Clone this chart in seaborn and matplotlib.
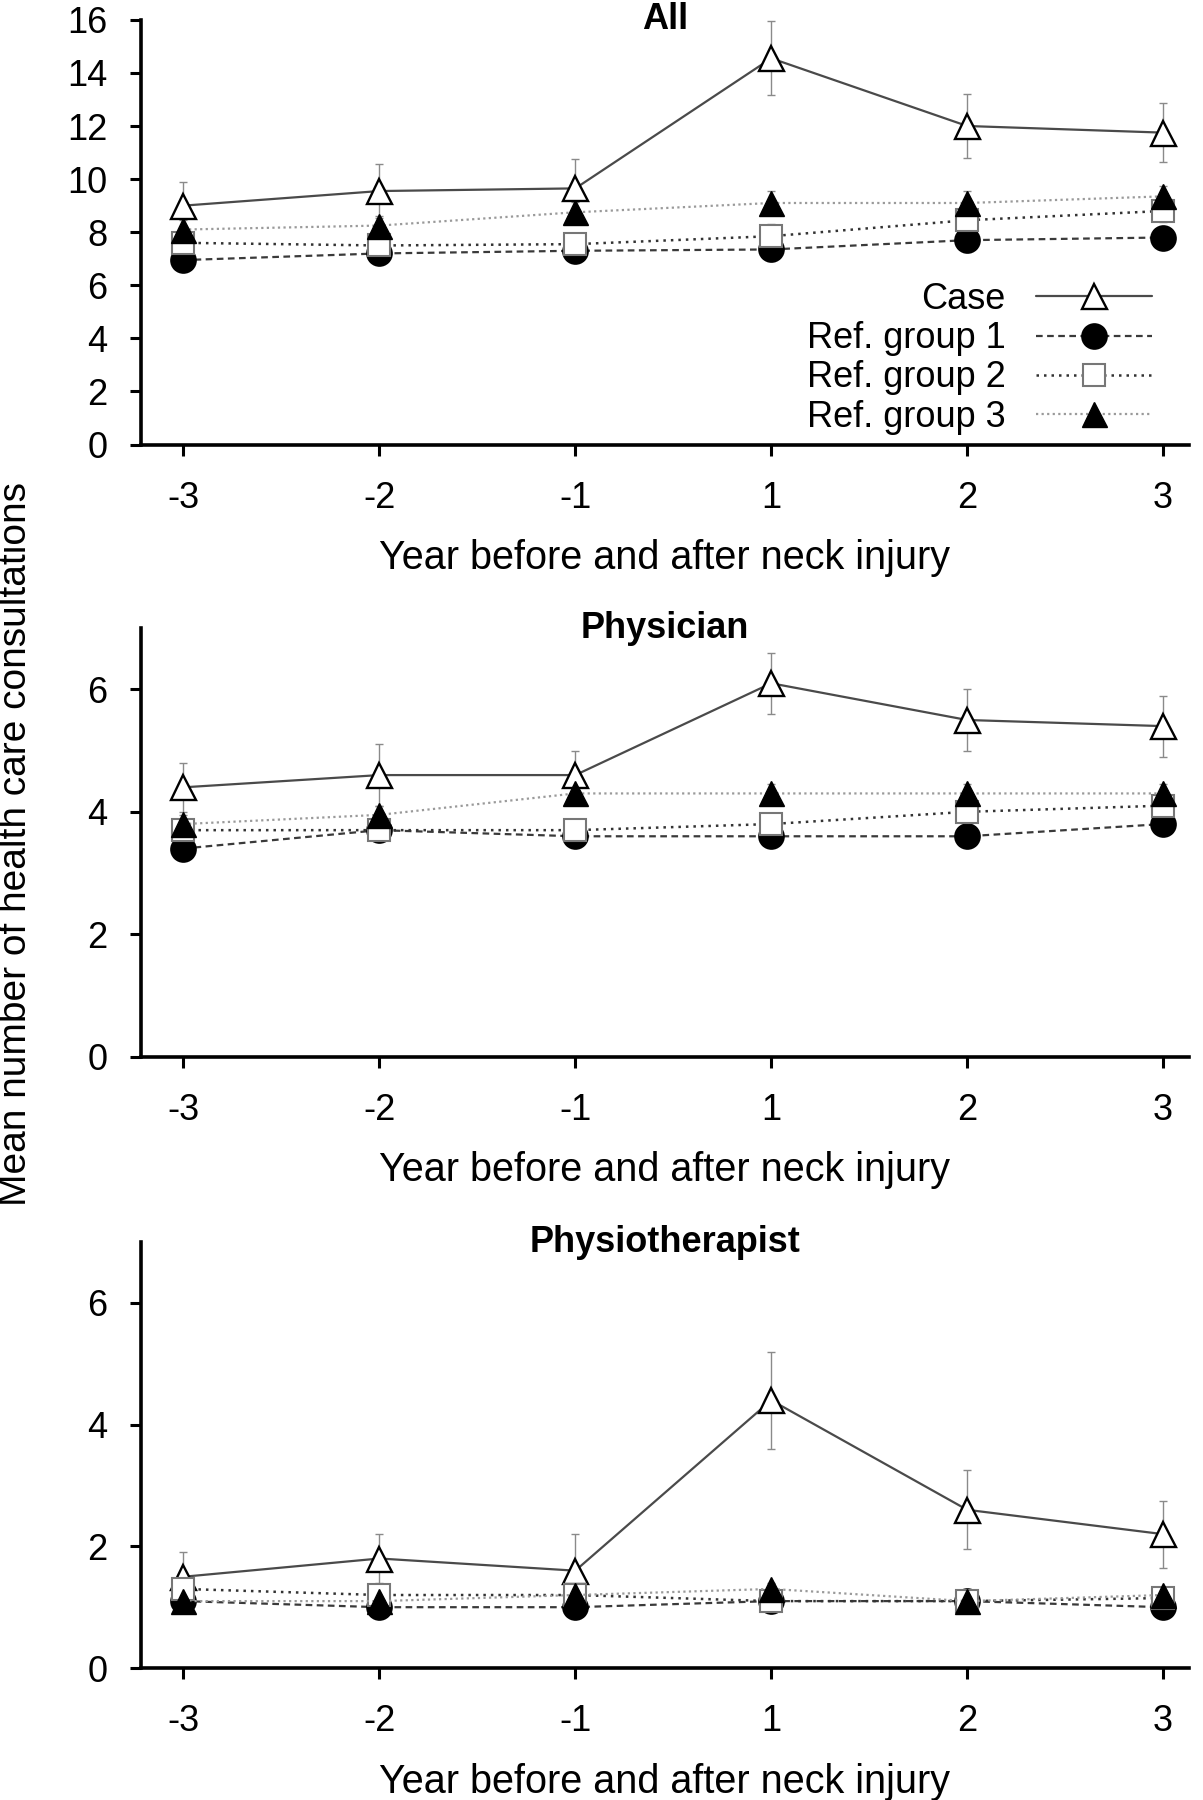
import numpy as np
import pandas as pd
import matplotlib
matplotlib.use("Agg")
import matplotlib.pyplot as plt
import seaborn as sns

# ---------------- data ----------------
years = ["-3", "-2", "-1", "1", "2", "3"]
groups = ["Case", "Ref. group 1", "Ref. group 2", "Ref. group 3"]
panels = ["All", "Physician", "Physiotherapist"]

all_case = [9.0, 9.55, 9.65, 14.55, 12.0, 11.75]
all_case_err = [0.9, 1.0, 1.1, 1.4, 1.2, 1.1]
all_ref1 = [6.95, 7.2, 7.3, 7.35, 7.7, 7.8]
all_ref2 = [7.6, 7.5, 7.55, 7.85, 8.45, 8.8]
all_ref3 = [8.1, 8.25, 8.75, 9.1, 9.1, 9.35]
all_ref_err = [0.35, 0.35, 0.4, 0.45, 0.45, 0.4]

phys_case = [4.4, 4.6, 4.6, 6.1, 5.5, 5.4]
phys_case_err = [0.4, 0.5, 0.4, 0.5, 0.5, 0.5]
phys_ref1 = [3.4, 3.7, 3.6, 3.6, 3.6, 3.8]
phys_ref2 = [3.7, 3.7, 3.7, 3.8, 4.0, 4.1]
phys_ref3 = [3.8, 3.95, 4.3, 4.3, 4.3, 4.3]
phys_ref_err = [0.15, 0.15, 0.15, 0.15, 0.15, 0.15]

pt_case = [1.5, 1.8, 1.6, 4.4, 2.6, 2.2]
pt_case_err = [0.4, 0.4, 0.6, 0.8, 0.65, 0.55]
pt_ref1 = [1.1, 1.0, 1.0, 1.1, 1.1, 1.0]
pt_ref2 = [1.3, 1.2, 1.2, 1.1, 1.1, 1.15]
pt_ref3 = [1.1, 1.1, 1.2, 1.3, 1.1, 1.2]
pt_ref_err = [0.1, 0.1, 0.1, 0.1, 0.1, 0.1]

all_yticks = [0, 2, 4, 6, 8, 10, 12, 14, 16]
sub_yticks = [0, 2, 4, 6]

panel_data = {
    "All": ([all_case, all_ref1, all_ref2, all_ref3],
            [all_case_err, all_ref_err, all_ref_err, all_ref_err],
            (0, 16), all_yticks),
    "Physician": ([phys_case, phys_ref1, phys_ref2, phys_ref3],
                  [phys_case_err, phys_ref_err, phys_ref_err, phys_ref_err],
                  (0, 7), sub_yticks),
    "Physiotherapist": ([pt_case, pt_ref1, pt_ref2, pt_ref3],
                        [pt_case_err, pt_ref_err, pt_ref_err, pt_ref_err],
                        (0, 7), sub_yticks),
}

# ---------------- styles ----------------
styles = {
    "Case": dict(color="#4a4a4a", ls="-", lw=1.6, marker="^", ms=18,
                 mfc="white", mec="black", mew=1.7),
    "Ref. group 1": dict(color="#3a3a3a", ls=(0, (3, 2)), lw=1.6, marker="o", ms=18,
                         mfc="black", mec="black", mew=1.2),
    "Ref. group 2": dict(color="#333333", ls=(0, (1, 2)), lw=1.8, marker="s", ms=16,
                         mfc="white", mec="#777777", mew=1.5),
    "Ref. group 3": dict(color="#9a9a9a", ls=(0, (1, 1.5)), lw=1.6, marker="^", ms=18,
                         mfc="black", mec="black", mew=1.0),
}

sns.set_theme(style="ticks")
plt.rcParams["font.family"] = ["Liberation Sans", "DejaVu Sans"]
plt.rcParams["text.color"] = "black"
plt.rcParams["axes.labelcolor"] = "black"
plt.rcParams["xtick.color"] = "black"
plt.rcParams["ytick.color"] = "black"
plt.rcParams["xtick.labelcolor"] = "black"
plt.rcParams["ytick.labelcolor"] = "black"

fig = plt.figure(figsize=(12.03, 18.0), dpi=100)

left, right = 0.117, 0.988
axes_rects = {
    "All": (0.753, 0.989),
    "Physician": (0.413, 0.651),
    "Physiotherapist": (0.0733, 0.310),
}

x_idx = np.arange(len(years))

for pname in panels:
    b, t = axes_rects[pname]
    ax = fig.add_axes([left, b, right - left, t - b])
    series, errs, ylim, yticks = panel_data[pname]
    handles = []
    for g, vals, err in zip(groups, series, errs):
        st = styles[g]
        df = pd.DataFrame({"x": x_idx, "y": vals})
        ax.errorbar(x_idx, vals, yerr=err, fmt="none", ecolor="#8a8a8a",
                    elinewidth=1.0, capsize=3, capthick=1.0, zorder=2)
        sns.lineplot(data=df, x="x", y="y", ax=ax, color=st["color"],
                     linestyle=st["ls"], linewidth=st["lw"], marker=st["marker"],
                     markersize=st["ms"], markerfacecolor=st["mfc"],
                     markeredgecolor=st["mec"], markeredgewidth=st["mew"],
                     label=g, legend=False, zorder=3)
        handles.append(ax.lines[-1])

    ax.set_xlim(-0.218, 5.13)
    ax.set_ylim(*ylim)
    ax.set_xticks(x_idx)
    ax.set_xticklabels(years)
    ax.set_yticks(yticks)
    ax.set_xlabel("Year before and after neck injury", fontsize=28.5,
                  labelpad=17, color="black")
    ax.set_ylabel("")
    ax.tick_params(axis="both", labelsize=26, direction="out", length=8,
                   width=2.2, color="black", labelcolor="black")
    ax.tick_params(axis="x", pad=18)
    ax.tick_params(axis="y", pad=16)
    for side in ["top", "right"]:
        ax.spines[side].set_visible(False)
    for side in ["left", "bottom"]:
        ax.spines[side].set_linewidth(2.6)
        ax.spines[side].set_color("black")
    ax.set_facecolor("white")
    ax.text(0.5, 1.0, pname, transform=ax.transAxes, ha="center", va="center",
            fontsize=26, fontweight="bold", color="black",
            family=["Liberation Sans", "DejaVu Sans"])

    if pname == "All":
        leg = ax.legend(handles, groups, loc="lower right",
                        bbox_to_anchor=(0.965, 0.023), markerfirst=False,
                        frameon=False, handlelength=3.2, handletextpad=0.85,
                        labelspacing=0.12, fontsize=26, borderpad=0,
                        borderaxespad=0)
        for txt in leg.get_texts():
            txt.set_color("black")

fig.text(0.013, 0.531, "Mean number of health care consultations",
         rotation=90, ha="center", va="center", fontsize=28, color="black")

fig.savefig("out.png", dpi=100, facecolor="white")
